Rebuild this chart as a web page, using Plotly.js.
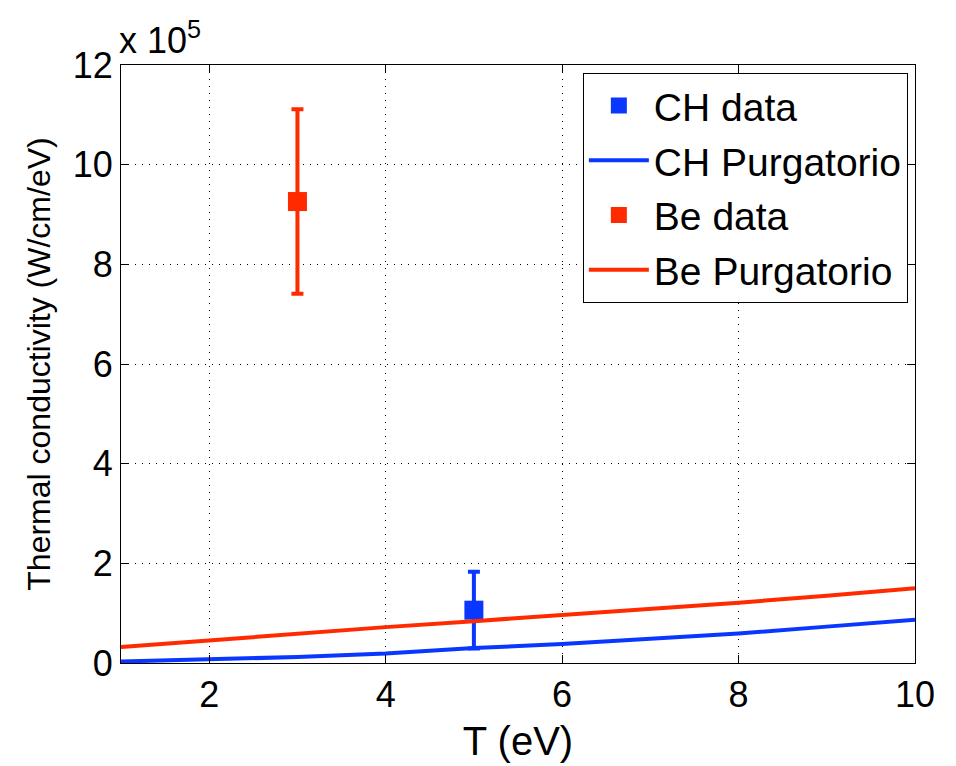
<!DOCTYPE html>
<html>
<head>
<meta charset="utf-8">
<script src="https://cdn.plot.ly/plotly-3.0.1.min.js"></script>
<style>html,body{margin:0;padding:0;background:#fff;}#chart{width:956px;height:766px;}</style>
</head>
<body>
<div id="chart"></div>
<script>
// Values in units of 10^5 W/cm/eV
const T_purg = [1, 2, 3, 4, 5, 6, 7, 8, 9, 10];
const CH_purgatorio = [0.03, 0.07, 0.12, 0.19, 0.30, 0.38, 0.48, 0.59, 0.73, 0.87];
const Be_purgatorio = [0.32, 0.46, 0.59, 0.72, 0.84, 0.96, 1.08, 1.21, 1.35, 1.50];
const CH_data_T = [5];
const CH_data_k = [1.06];
const CH_data_err = [0.77];
const Be_data_T = [3];
const Be_data_k = [9.26];
const Be_data_err = [1.85];
const xTicks = [2, 4, 6, 8, 10];
const yTicks = [0, 2, 4, 6, 8, 10, 12];

const BLUE = '#0a37ff';
const RED = '#ff2a00';
const FONT = 'Liberation Sans, Arial, sans-serif';

const traces = [
  {x: CH_data_T, y: CH_data_k, name: 'CH data', type: 'scatter', mode: 'markers',
   marker: {symbol: 'square', size: 19, color: BLUE},
   error_y: {type: 'data', array: CH_data_err, visible: true, color: BLUE, thickness: 4, width: 6},
   legendgroup: 'a'},
  {x: T_purg, y: CH_purgatorio, name: 'CH Purgatorio', type: 'scatter', mode: 'lines',
   line: {color: BLUE, width: 4}, legendgroup: 'b'},
  {x: Be_data_T, y: Be_data_k, name: 'Be data', type: 'scatter', mode: 'markers',
   marker: {symbol: 'square', size: 19, color: RED},
   error_y: {type: 'data', array: Be_data_err, visible: true, color: RED, thickness: 4, width: 6},
   legendgroup: 'c'},
  {x: T_purg, y: Be_purgatorio, name: 'Be Purgatorio', type: 'scatter', mode: 'lines',
   line: {color: RED, width: 4}, legendgroup: 'd'}
];

const axisCommon = {
  showline: true, linecolor: '#000', linewidth: 1, mirror: 'ticks',
  ticks: 'inside', ticklen: 8, tickcolor: '#000', tickwidth: 1,
  showgrid: true, gridcolor: '#000', gridwidth: 1, griddash: '1px,6px',
  zeroline: false, tickfont: {family: FONT, size: 36, color: '#000'}
};

const layout = {
  width: 956, height: 766,
  paper_bgcolor: '#fff', plot_bgcolor: '#fff',
  margin: {l: 121, r: 41, t: 65, b: 103},
  font: {family: FONT, color: '#000'},
  showlegend: true,
  legend: {
    x: 0.991, y: 0.987, xanchor: 'right', yanchor: 'top',
    bgcolor: '#fff', bordercolor: '#000', borderwidth: 1,
    font: {family: FONT, size: 39, color: '#000'},
    traceorder: 'grouped', tracegroupgap: 1, itemwidth: 60
  },
  xaxis: Object.assign({}, axisCommon, {
    range: [1, 10], tickvals: xTicks, ticktext: xTicks.map(String),
    title: {text: 'T (eV)', font: {family: FONT, size: 40, color: '#000'}, standoff: 12}
  }),
  yaxis: Object.assign({}, axisCommon, {
    range: [0, 12], tickvals: yTicks, ticktext: yTicks.map(String),
    title: {text: 'Thermal conductivity (W/cm/eV)', font: {family: FONT, size: 32, color: '#000'}, standoff: 12}
  }),
  annotations: [{
    text: 'x 10<sup>5</sup>', xref: 'paper', yref: 'paper', x: 0, y: 1,
    xanchor: 'left', yanchor: 'bottom', showarrow: false, yshift: 2, xshift: -4,
    font: {family: FONT, size: 36, color: '#000'}
  }]
};

Plotly.newPlot('chart', traces, layout, {displayModeBar: false, staticPlot: true});
</script>
</body>
</html>
